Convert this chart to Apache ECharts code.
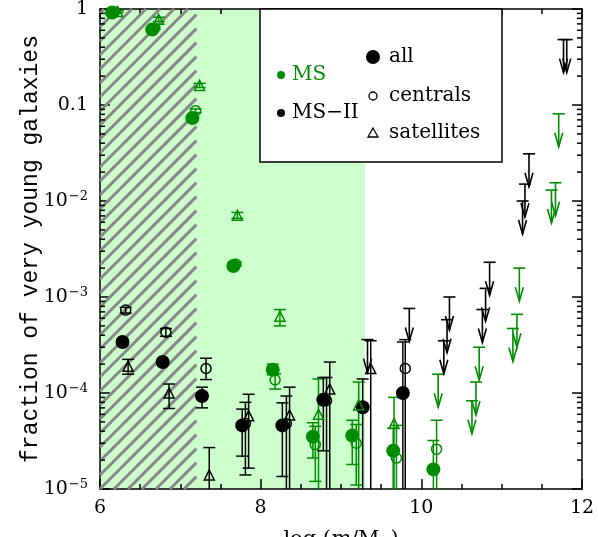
<!DOCTYPE html>
<html>
<head>
<meta charset="utf-8">
<script src="https://cdn.jsdelivr.net/npm/echarts@6/dist/echarts.min.js"></script>
<style>
html, body { margin: 0; padding: 0; background: #fff; }
#chart { width: 598px; height: 537px; }
</style>
</head>
<body>
<div id="chart"></div>
<script>
const GREEN = '#008c00'
const FONT = 'DejaVu Serif'
const MONO = 'Liberation Mono'
const FLOOR = 1e-5

// shaded ranges in log(m/Msun)
const shadeRange = [6, 9.3]
const hatchRange = [6, 7.2]

// Millennium (MS), green
const msAllX = [6.15, 6.65, 7.15, 7.66, 8.15, 8.65, 9.14, 9.65, 10.15]
const msAllY = [0.92, 0.61, 0.073, 0.0021, 1.75e-4, 3.5e-5, 3.6e-5, 2.5e-5, 1.6e-5]
const msAllLo = [0.90, 0.59, 0.070, 0.0020, 1.55e-4, 2.1e-5, 1.8e-5, 1e-5, 1e-5]
const msAllHi = [0.94, 0.63, 0.076, 0.0022, 2.0e-4, 4.9e-5, 5.2e-5, 4.3e-5, 3.2e-5]

const msCenX = [6.18, 6.68, 7.19, 7.69, 8.18, 8.68, 9.19, 9.69, 10.19]
const msCenY = [0.93, 0.63, 0.087, 0.0022, 1.37e-4, 2.9e-5, 3.0e-5, 2.1e-5, 2.6e-5]
const msCenLo = [0.91, 0.61, 0.083, 0.0021, 1.1e-4, 1.2e-5, 1.1e-5, 1e-5, 1e-5]
const msCenHi = [0.95, 0.65, 0.091, 0.0023, 1.58e-4, 4.5e-5, 4.7e-5, 4.6e-5, 5.2e-5]

const msSatX = [6.22, 6.73, 7.24, 7.71, 8.24, 8.72, 9.22, 9.66]
const msSatY = [0.94, 0.78, 0.16, 0.0071, 6.3e-4, 6.0e-5, 7.5e-5, 4.8e-5]
const msSatLo = [0.92, 0.74, 0.152, 0.0066, 5.0e-4, 1e-5, 1e-5, 1e-5]
const msSatHi = [0.96, 0.82, 0.168, 0.0076, 7.4e-4, 1.4e-4, 1.3e-4, 9e-5]

const msLimX = [10.21, 10.63, 10.68, 10.72, 11.14, 11.19, 11.22, 11.62, 11.67, 11.71]
const msLimY = [1.57e-4, 8.3e-5, 1.3e-4, 3.0e-4, 4.7e-4, 6.6e-4, 2.0e-3, 0.013, 0.0155, 0.081]

// Millennium-II (MS-II), black
const ms2AllX = [6.28, 6.78, 7.27, 7.77, 8.27, 8.78, 9.27, 9.77]
const ms2AllY = [3.4e-4, 2.1e-4, 9.3e-5, 4.6e-5, 4.6e-5, 8.5e-5, 7.1e-5, 1.0e-4]
const ms2AllLo = [3.2e-4, 2.0e-4, 7.0e-5, 2.2e-5, 1.35e-5, 2.5e-5, 1e-5, 1e-5]
const ms2AllHi = [3.6e-4, 2.2e-4, 1.15e-4, 6.8e-5, 7.9e-5, 1.45e-4, 1.4e-4, 3.4e-4]

const ms2CenX = [6.32, 6.82, 7.32, 7.81, 8.32, 8.82, 9.80]
const ms2CenY = [7.3e-4, 4.3e-4, 1.8e-4, 4.8e-5, 4.8e-5, 8.3e-5, 1.8e-4]
const ms2CenLo = [6.8e-4, 3.9e-4, 1.38e-4, 1.4e-5, 1e-5, 1e-5, 1e-5]
const ms2CenHi = [7.8e-4, 4.7e-4, 2.3e-4, 8.0e-5, 9.3e-5, 1.45e-4, 3.6e-4]

const ms2SatX = [6.35, 6.86, 7.36, 7.85, 8.36, 8.86, 9.37]
const ms2SatY = [1.9e-4, 1.0e-4, 1.4e-5, 5.8e-5, 5.9e-5, 1.1e-4, 1.8e-4]
const ms2SatLo = [1.57e-4, 6.9e-5, 1e-5, 1.65e-5, 1e-5, 1e-5, 1e-5]
const ms2SatHi = [2.24e-4, 1.24e-4, 2.7e-5, 9.7e-5, 1.15e-4, 2.1e-4, 3.5e-4]

const ms2LimX = [9.33, 9.85, 10.28, 10.32, 10.35, 10.76, 10.80, 10.85, 11.26, 11.29, 11.34, 11.77, 11.81]
const ms2LimY = [3.6e-4, 7.6e-4, 3.5e-4, 5.8e-4, 1.0e-3, 7.4e-4, 1.23e-3, 2.3e-3, 0.010, 0.015, 0.031, 0.48, 0.48]

const decades = [1e-5, 1e-4, 1e-3, 1e-2, 0.1]
const minorMult = [2, 3, 4, 5, 6, 7, 8, 9]

function pts(xs, ys) { return xs.map((x, i) => [x, ys[i]]) }
function errs(xs, ys, lo, hi) { return xs.map((x, i) => [x, ys[i], lo[i], hi[i]]) }

function errRender(color) {
  return function (params, api) {
    const x = api.value(0)
    const lo = api.value(2)
    const hi = api.value(3)
    const a = api.coord([x, hi])
    const b = api.coord([x, Math.max(lo, FLOOR)])
    const st = { stroke: color, lineWidth: 1.5 }
    const kids = [
      { type: 'line', shape: { x1: a[0], y1: a[1], x2: b[0], y2: b[1] }, style: st },
      { type: 'line', shape: { x1: a[0] - 6, y1: a[1], x2: a[0] + 6, y2: a[1] }, style: st }
    ]
    if (lo > FLOOR) kids.push({ type: 'line', shape: { x1: b[0] - 6, y1: b[1], x2: b[0] + 6, y2: b[1] }, style: st })
    return { type: 'group', children: kids }
  }
}

function limRender(color) {
  return function (params, api) {
    const p = api.coord([api.value(0), api.value(1)])
    const st = { stroke: color, lineWidth: 1.6, fill: null }
    return {
      type: 'group',
      children: [
        { type: 'line', shape: { x1: p[0] - 6, y1: p[1], x2: p[0] + 6, y2: p[1] }, style: st },
        { type: 'line', shape: { x1: p[0], y1: p[1], x2: p[0], y2: p[1] + 33 }, style: st },
        { type: 'polyline', shape: { points: [[p[0] - 4, p[1] + 19], [p[0], p[1] + 33], [p[0] + 4, p[1] + 19]] }, style: st }
      ]
    }
  }
}

function errSeries(data, color) {
  return { type: 'custom', data: data, renderItem: errRender(color), encode: { x: 0, y: [1, 2, 3] }, z: 3, silent: true }
}
function limSeries(data, color) {
  return { type: 'custom', data: data, renderItem: limRender(color), encode: { x: 0, y: 1 }, z: 3, silent: true }
}
function dotSeries(data, color, symbol, size, filled) {
  return {
    type: 'scatter', data: data, symbol: symbol, symbolSize: size, z: filled ? 4 : 5, silent: true,
    itemStyle: filled ? { color: color, opacity: 1 } : { color: 'rgba(0,0,0,0)', borderColor: color, borderWidth: 1.5, opacity: 1 }
  }
}

const chart = echarts.init(document.getElementById('chart'))

const tickStyle = { color: '#000', width: 1.5 }
const LZ = 100

chart.setOption({
  animation: false,
  textStyle: { fontFamily: FONT },
  grid: { left: 100, right: 16, top: 9, bottom: 48, outerBoundsMode: 'none', containLabel: false },
  xAxis: [
    {
      type: 'value', min: 6, max: 12, interval: 2,
      name: '{n|log (}{i|m}{n|/M}{s|⊙}{n|)}', nameLocation: 'middle', nameGap: 40,
      nameTextStyle: {
        rich: {
          n: { fontFamily: FONT, fontSize: 21, color: '#000' },
          i: { fontFamily: FONT, fontSize: 21, fontStyle: 'italic', color: '#000' },
          s: { fontFamily: FONT, fontSize: 13, color: '#000', verticalAlign: 'bottom' }
        }
      },
      axisLine: { lineStyle: { color: '#000', width: 1.5 } },
      axisTick: { inside: true, length: 10, lineStyle: tickStyle },
      minorTick: { show: true, splitNumber: 4, length: 5, lineStyle: tickStyle },
      axisLabel: { fontFamily: FONT, fontSize: 19, color: '#000', margin: 10 },
      splitLine: { show: false }
    },
    {
      type: 'value', min: 6, max: 12, interval: 2, position: 'top',
      axisLine: { lineStyle: { color: '#000', width: 1.5 } },
      axisTick: { inside: true, length: 10, lineStyle: tickStyle },
      minorTick: { show: true, splitNumber: 4, length: 5, lineStyle: tickStyle },
      axisLabel: { show: false },
      splitLine: { show: false }
    }
  ],
  yAxis: [
    {
      type: 'log', logBase: 10, min: 1e-5, max: 1,
      name: 'fraction of very young galaxies', nameLocation: 'middle', nameGap: 58,
      nameMoveOverlap: false,
      nameTextStyle: { fontFamily: MONO, fontSize: 23, color: '#000' },
      axisLine: { lineStyle: { color: '#000', width: 1.5 } },
      axisTick: { inside: true, length: 10, lineStyle: tickStyle },
      axisLabel: {
        margin: 12, color: '#000', fontFamily: FONT, fontSize: 19,
        formatter: function (v) {
          const e = Math.round(Math.log10(v))
          if (e === 0) return '{b|1}'
          if (e === -1) return '{b|0.1}'
          return '{b|10}{s|−' + (-e) + '}'
        },
        rich: {
          b: { fontFamily: FONT, fontSize: 19, color: '#000', lineHeight: 22 },
          s: { fontFamily: FONT, fontSize: 13, color: '#000', verticalAlign: 'top', lineHeight: 22, padding: [0, 0, 10, 1] }
        }
      },
      splitLine: { show: false }
    },
    {
      type: 'log', logBase: 10, min: 1e-5, max: 1, position: 'right',
      axisLine: { lineStyle: { color: '#000', width: 1.5 } },
      axisTick: { inside: true, length: 10, lineStyle: tickStyle },
      axisLabel: { show: false },
      splitLine: { show: false }
    }
  ],
  series: [
    {
      // shaded green region
      type: 'custom', data: [shadeRange], silent: true, z: 0,
      encode: { x: [0, 1] },
      renderItem: function (params, api) {
        const a = api.coord([api.value(0), 1])
        const b = api.coord([api.value(1), FLOOR])
        return { type: 'rect', shape: { x: a[0], y: a[1], width: b[0] - a[0], height: b[1] - a[1] }, style: { fill: '#ccffcc' } }
      }
    },
    {
      // hatched region
      type: 'custom', data: [hatchRange], silent: true, z: 1,
      encode: { x: [0, 1] },
      renderItem: function (params, api) {
        const a = api.coord([api.value(0), 1])
        const b = api.coord([api.value(1), FLOOR])
        const x0 = a[0], x1 = b[0], y0 = a[1], y1 = b[1]
        const kids = []
        for (let k = x0 + y0 + 4; k < x1 + y1; k += 14) {
          const xs = Math.max(x0, k - y1)
          const xe = Math.min(x1, k - y0)
          if (xe <= xs) continue
          kids.push({ type: 'line', shape: { x1: xs, y1: k - xs, x2: xe, y2: k - xe }, style: { stroke: '#888', lineWidth: 3 } })
        }
        return { type: 'group', children: kids }
      }
    },
    {
      // log minor ticks on left and right
      type: 'custom', data: decades.map(d => [6, d]), silent: true, z: 6,
      encode: { x: 0, y: 1 },
      renderItem: function (params, api) {
        const cs = params.coordSys
        const kids = []
        minorMult.forEach(m => {
          const y = api.coord([6, api.value(1) * m])[1]
          kids.push({ type: 'line', shape: { x1: cs.x, y1: y, x2: cs.x + 5, y2: y }, style: { stroke: '#000', lineWidth: 1.5 } })
          kids.push({ type: 'line', shape: { x1: cs.x + cs.width - 5, y1: y, x2: cs.x + cs.width, y2: y }, style: { stroke: '#000', lineWidth: 1.5 } })
        })
        return { type: 'group', children: kids }
      }
    },
    errSeries(errs(msAllX, msAllY, msAllLo, msAllHi), GREEN),
    errSeries(errs(msCenX, msCenY, msCenLo, msCenHi), GREEN),
    errSeries(errs(msSatX, msSatY, msSatLo, msSatHi), GREEN),
    errSeries(errs(ms2AllX, ms2AllY, ms2AllLo, ms2AllHi), '#000'),
    errSeries(errs(ms2CenX, ms2CenY, ms2CenLo, ms2CenHi), '#000'),
    errSeries(errs(ms2SatX, ms2SatY, ms2SatLo, ms2SatHi), '#000'),
    limSeries(pts(msLimX, msLimY), GREEN),
    limSeries(pts(ms2LimX, ms2LimY), '#000'),
    dotSeries(pts(msAllX, msAllY), GREEN, 'circle', 14, true),
    dotSeries(pts(msCenX, msCenY), GREEN, 'circle', 10, false),
    dotSeries(pts(msSatX, msSatY), GREEN, 'triangle', 10, false),
    dotSeries(pts(ms2AllX, ms2AllY), '#000', 'circle', 14, true),
    dotSeries(pts(ms2CenX, ms2CenY), '#000', 'circle', 10, false),
    dotSeries(pts(ms2SatX, ms2SatY), '#000', 'triangle', 10, false)
  ],
  graphic: [
    { type: 'rect', z: LZ, shape: { x: 260, y: 9, width: 242, height: 153 }, style: { fill: '#fff', stroke: '#000', lineWidth: 1.5 } },
    { type: 'circle', z: LZ + 1, shape: { cx: 281, cy: 75, r: 4 }, style: { fill: GREEN } },
    { type: 'text', z: LZ + 1, x: 292, y: 75, style: { text: 'MS', fill: GREEN, fontFamily: FONT, fontSize: 20, verticalAlign: 'middle' } },
    { type: 'circle', z: LZ + 1, shape: { cx: 281, cy: 113, r: 4 }, style: { fill: '#000' } },
    { type: 'text', z: LZ + 1, x: 292, y: 113, style: { text: 'MS−II', fill: '#000', fontFamily: FONT, fontSize: 20, verticalAlign: 'middle' } },
    { type: 'circle', z: LZ + 1, shape: { cx: 373, cy: 57, r: 7 }, style: { fill: '#000' } },
    { type: 'text', z: LZ + 1, x: 389, y: 57, style: { text: 'all', fill: '#000', fontFamily: FONT, fontSize: 20, verticalAlign: 'middle' } },
    { type: 'circle', z: LZ + 1, shape: { cx: 373, cy: 96, r: 4 }, style: { fill: 'none', stroke: '#000', lineWidth: 1.3 } },
    { type: 'text', z: LZ + 1, x: 389, y: 96, style: { text: 'centrals', fill: '#000', fontFamily: FONT, fontSize: 20, verticalAlign: 'middle' } },
    { type: 'polygon', z: LZ + 1, shape: { points: [[373, 128], [368, 137], [378, 137]] }, style: { fill: 'none', stroke: '#000', lineWidth: 1.3 } },
    { type: 'text', z: LZ + 1, x: 389, y: 133, style: { text: 'satellites', fill: '#000', fontFamily: FONT, fontSize: 20, verticalAlign: 'middle' } }
  ]
})
</script>
</body>
</html>
